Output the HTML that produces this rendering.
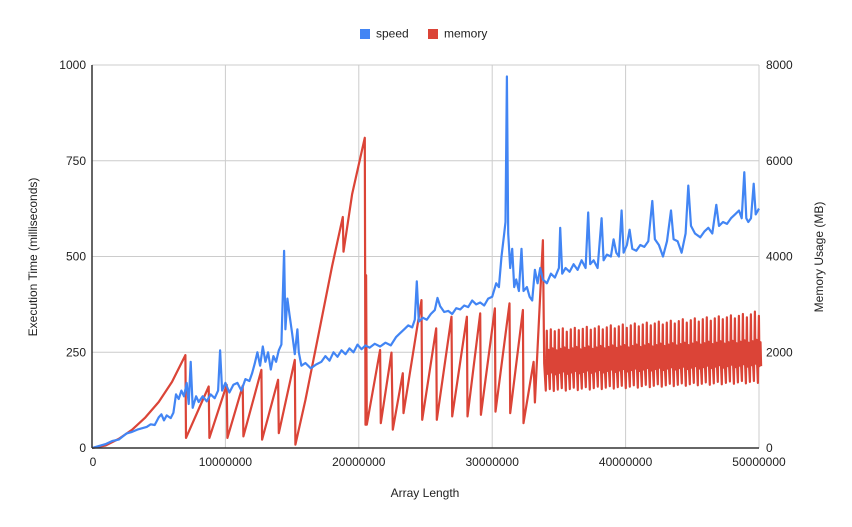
<!DOCTYPE html>
<html><head><meta charset="utf-8"><style>
html,body{margin:0;padding:0;background:#fff;}
svg{display:block;font-family:"Liberation Sans",Arial,sans-serif;}
</style></head><body>
<svg id="chart" width="852" height="527" viewBox="0 0 852 527">
<g id="grid"></g>
<g id="series"></g>
<g id="axes"></g>
<g>
  <rect x="360" y="29" width="10" height="10" fill="#4285f4"/>
  <text x="376" y="37.5" font-size="12" fill="#222">speed</text>
  <rect x="428" y="29" width="10" height="10" fill="#db4437"/>
  <text x="444" y="37.5" font-size="12" fill="#222">memory</text>
</g>
<text x="425" y="497" text-anchor="middle" font-size="12" fill="#222">Array Length</text>
<text transform="translate(37,257) rotate(-90)" text-anchor="middle" font-size="12" fill="#222">Execution Time (milliseconds)</text>
<text transform="translate(823,257) rotate(-90)" text-anchor="middle" font-size="12" fill="#222">Memory Usage (MB)</text>
</svg>
<script>
const xTicks = [0,10,20,30,40,50];
const xTickLabels = ["0","10000000","20000000","30000000","40000000","50000000"];
const leftTicks = [0,250,500,750,1000];
const rightTicks = [0,2000,4000,6000,8000];

const speedX = [0,0.5,1,1.5,2,2.3,2.6,3,3.4,3.8,4.1,4.4,4.7,5,5.2,5.4,5.6,5.9,6.1,6.3,6.5,6.7,6.9,7.1,7.25,7.4,7.55,7.8,8,8.3,8.6,8.9,9.2,9.45,9.6,9.75,10,10.3,10.6,10.9,11.2,11.5,11.8,12,12.2,12.4,12.6,12.8,13,13.2,13.4,13.6,13.8,14.0,14.2,14.4,14.5,14.65,14.8,15.0,15.2,15.4,15.5,15.7,16,16.4,16.8,17.2,17.5,17.8,18.1,18.4,18.7,19,19.3,19.6,19.9,20.2,20.5,20.8,21.2,21.6,22,22.4,22.8,23.1,23.4,23.7,24,24.2,24.35,24.5,24.8,25.1,25.4,25.7,25.9,26.1,26.4,26.7,27,27.3,27.6,27.9,28.2,28.5,28.8,29.1,29.4,29.7,30,30.3,30.5,30.7,30.9,31.0,31.1,31.2,31.35,31.5,31.65,31.8,32.0,32.2,32.35,32.6,32.8,33.0,33.2,33.4,33.6,33.8,34.1,34.4,34.7,35.0,35.1,35.25,35.5,35.8,36.1,36.4,36.7,37.0,37.2,37.35,37.6,37.9,38.2,38.35,38.6,38.9,39.1,39.3,39.5,39.7,39.85,40.1,40.3,40.5,40.8,41.1,41.4,41.7,42.0,42.2,42.5,42.8,43.1,43.4,43.6,43.9,44.2,44.5,44.7,44.9,45.2,45.6,45.9,46.2,46.5,46.8,47.0,47.3,47.6,47.9,48.2,48.5,48.7,48.9,49.05,49.2,49.4,49.6,49.75,50];
const speedY = [0,5,10,18,22,30,38,42,48,52,55,62,60,80,88,72,85,78,92,140,128,150,135,170,115,225,105,135,120,135,122,140,130,150,255,150,170,145,165,170,150,180,175,195,220,250,215,265,225,250,205,240,225,255,270,515,310,390,350,300,245,310,250,215,222,208,218,225,240,228,250,238,255,245,260,250,270,258,268,262,272,265,275,268,290,300,310,320,315,335,435,330,340,335,350,360,392,370,355,358,350,365,362,372,368,385,375,380,372,390,395,430,420,500,560,590,970,560,470,520,420,440,410,520,410,420,395,385,465,430,470,440,430,455,445,470,575,455,470,460,480,465,490,470,615,480,490,470,600,490,505,500,545,510,500,620,510,530,570,520,515,530,525,540,645,545,530,500,540,620,545,540,510,560,685,580,560,550,565,575,560,635,580,590,585,600,610,620,600,720,600,590,600,690,610,625];

const memX = [0,1,2,3,4,5,6,7,7.05,8.75,8.8,10.1,10.15,11.3,11.35,12.7,12.75,13.95,14.0,15.2,15.25,16,17,18,18.8,18.85,19.5,20.45,20.5,20.55,20.6,21.6,21.65,22.45,22.55,23.3,23.35,24.7,24.75,25.8,25.85,26.95,27.0,28.1,28.15,29.1,29.15,30.2,30.25,31.3,31.35,32.3,32.35,33.1,33.2,33.8,33.9];
const memY = [0,50,190,380,640,960,1380,1940,210,1285,210,1320,210,1300,243,1632,175,1424,312,1840,70,1000,2400,3800,4826,4100,5300,6480,486,3610,486,2048,520,1992,382,1562,729,3090,590,2500,590,2743,660,2743,660,2812,694,2917,760,3021,729,2882,520,1800,950,4340,1770];

const memDenseStart = 34.0;
const memDenseStep = 0.3;
const memDensePeaks = [2450,2480,2440,2470,2500,2430,2480,2510,2460,2490,2530,2470,2500,2540,2480,2520,2560,2500,2540,2580,2510,2560,2600,2540,2580,2620,2560,2600,2640,2580,2620,2660,2600,2650,2690,2620,2670,2710,2640,2690,2730,2660,2710,2750,2690,2730,2770,2710,2760,2800,2730,2790,2850,2760];
const memDenseTroughs = [1200,1230,1190,1220,1250,1200,1230,1260,1210,1240,1270,1220,1250,1280,1230,1260,1290,1240,1270,1300,1250,1280,1310,1260,1290,1320,1270,1300,1330,1280,1310,1340,1290,1320,1350,1300,1330,1360,1310,1340,1370,1320,1350,1380,1330,1360,1390,1340,1370,1400,1350,1380,1400,1360];
const memDenseMidHigh = [2050,2080,2040,2070,2100,2050,2080,2110,2060,2090,2120,2070,2100,2130,2080,2110,2140,2090,2120,2150,2100,2130,2160,2110,2140,2170,2120,2150,2180,2130,2160,2190,2140,2170,2200,2150,2180,2210,2160,2190,2220,2170,2200,2230,2180,2210,2240,2190,2220,2250,2200,2230,2260,2210];
const memDenseMidLow = [1550,1580,1540,1570,1600,1550,1580,1610,1560,1590,1620,1570,1600,1630,1580,1610,1640,1590,1620,1650,1600,1630,1660,1610,1640,1670,1620,1650,1680,1630,1660,1690,1640,1670,1700,1650,1680,1710,1660,1690,1720,1670,1700,1730,1680,1710,1740,1690,1720,1750,1700,1730,1760,1710];

const X0=92, X1=759, Y0=448, Y1=65;
const xs = m => X0 + (m/50)*(X1-X0);
const ysL = v => Y0 - (v/1000)*(Y0-Y1);
const ysR = v => Y0 - (v/8000)*(Y0-Y1);
const NS="http://www.w3.org/2000/svg";
function mk(tag, attrs, parent){const e=document.createElementNS(NS,tag);for(const k in attrs)e.setAttribute(k,attrs[k]);parent.appendChild(e);return e;}
const grid=document.getElementById('grid'), axes=document.getElementById('axes'), ser=document.getElementById('series');

leftTicks.forEach((t,i)=>{
  const y=ysL(t);
  if(t>0){const g=mk('line',{x1:X0,x2:X1,y1:y,y2:y,stroke:'#cccccc','stroke-width':1},grid);
  
  }
  const l=mk('text',{x:86,y:y+4,'text-anchor':'end','font-size':12,fill:'#222'},axes);
  l.textContent=String(t);
  
  
  const r=mk('text',{x:766,y:y+4,'text-anchor':'start','font-size':12,fill:'#222'},axes);
  r.textContent=String(rightTicks[i]);
  
  
});
xTicks.forEach((t,i)=>{
  const x=xs(t);
  if(t>0){const g=mk('line',{x1:x,x2:x,y1:Y1,y2:Y0,stroke:'#cccccc','stroke-width':1},grid);
  
  }
  const l=mk('text',{x:i===0?x+1:x,y:466,'text-anchor':'middle','font-size':12,fill:'#222'},axes);
  l.textContent=xTickLabels[i];
  
  
});
const bl=mk('line',{x1:X0,x2:X1,y1:Y0,y2:Y0,stroke:'#333','stroke-width':1.5},axes);


const la=mk('line',{x1:X0,x2:X0,y1:Y1,y2:Y0,stroke:'#333','stroke-width':1.5},axes);



// memory
let mpts = memX.map((m,i)=>xs(m).toFixed(1)+','+ysR(memY[i]).toFixed(1));
memDensePeaks.forEach((p,i)=>{
  const m0=memDenseStart+i*memDenseStep;
  mpts.push(xs(m0+memDenseStep*0.05).toFixed(1)+','+ysR(memDenseTroughs[i]).toFixed(1));
  mpts.push(xs(m0+memDenseStep*0.3).toFixed(1)+','+ysR(p).toFixed(1));
  mpts.push(xs(m0+memDenseStep*0.45).toFixed(1)+','+ysR(memDenseMidLow[i]).toFixed(1));
  mpts.push(xs(m0+memDenseStep*0.7).toFixed(1)+','+ysR(memDenseMidHigh[i]).toFixed(1));
  mpts.push(xs(m0+memDenseStep*0.85).toFixed(1)+','+ysR(memDenseMidLow[i]).toFixed(1));
});
const mp=mk('polyline',{points:mpts.join(' '),fill:'none',stroke:'#db4437','stroke-width':2.2,'stroke-linejoin':'round'},ser);



// speed
const spts = speedX.map((m,i)=>xs(m).toFixed(1)+','+ysL(speedY[i]).toFixed(1));
const sp=mk('polyline',{points:spts.join(' '),fill:'none',stroke:'#4285f4','stroke-width':2.2,'stroke-linejoin':'round'},ser);


</script>
</body></html>
